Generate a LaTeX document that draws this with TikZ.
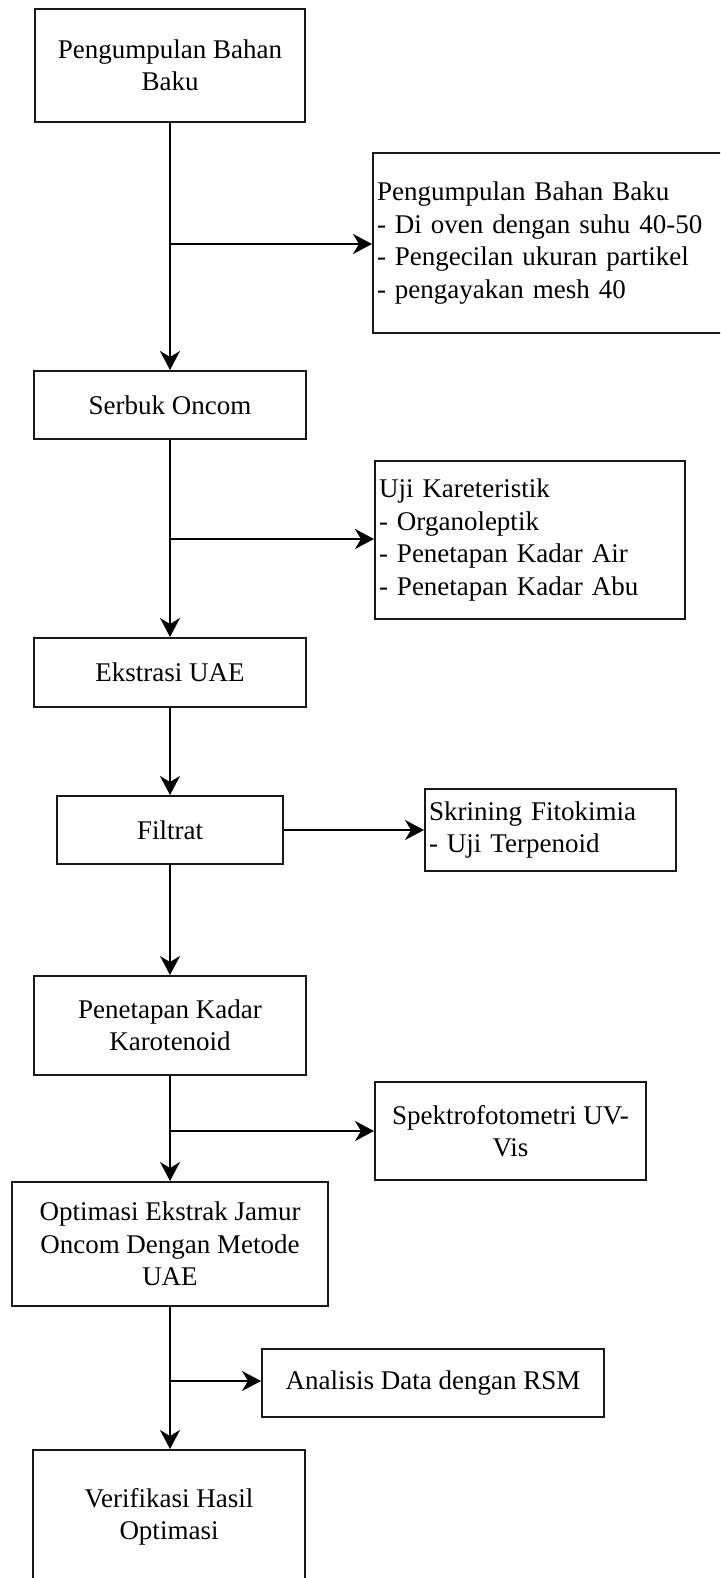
\documentclass[tikz,border=0pt]{standalone}
\usepackage{fontspec}
\setmainfont{Liberation Serif}
\usetikzlibrary{arrows.meta}
\begin{document}
\begin{tikzpicture}[x=1pt,y=-1pt,
  box/.style={draw=black!90, line width=2pt, fill=white, align=center, inner sep=4pt,
    font=\fontsize{27}{32.4}\selectfont},
  lbox/.style={draw=black!90, line width=2pt, fill=white, align=left, inner xsep=4pt, inner ysep=4pt,
    font=\fontsize{27}{32.4}\selectfont},
  arr/.style={line width=2pt, -{Stealth[length=19pt,width=20pt,inset=6pt]}},
  ln/.style={line width=2pt}]
\useasboundingbox (0,0) rectangle (720,1578);
\clip (0,0) rectangle (720,1578);
% main column
\node[box, minimum width=270pt, minimum height=113pt] (b1) at (170,65.5) {Pengumpulan Bahan\\Baku};
\node[box, minimum width=272pt, minimum height=68pt] (b2) at (170,405) {Serbuk Oncom};
\node[box, minimum width=272pt, minimum height=69pt] (b3) at (170,672.5) {Ekstrasi UAE};
\node[box, minimum width=226pt, minimum height=68pt] (b4) at (170,830) {Filtrat};
\node[box, minimum width=272pt, minimum height=99pt] (b5) at (170,1025.5) {Penetapan Kadar\\Karotenoid};
\node[box, minimum width=316pt, minimum height=124pt] (b6) at (170,1244) {Optimasi Ekstrak Jamur\\Oncom Dengan Metode\\UAE};
\node[box, minimum width=272pt, minimum height=134pt] (b7) at (169,1517) {Verifikasi Hasil\\Optimasi};
% side boxes
\node[lbox, text width=346pt, minimum height=180pt, anchor=west] (r1) at (372,243)
  {Pengumpulan Bahan Baku\\- Di oven dengan suhu 40-50\\- Pengecilan ukuran partikel\\- pengayakan mesh 40};
\node[lbox, text width=302pt, minimum height=158pt, anchor=west] (r2) at (374,540)
  {Uji Kareteristik\\- Organoleptik\\- Penetapan Kadar Air\\- Penetapan Kadar Abu};
\node[lbox, text width=243pt, minimum height=82pt, anchor=west] (r3) at (424,830)
  {Skrining Fitokimia\\- Uji Terpenoid};
\node[box, minimum width=271pt, minimum height=98pt, anchor=west] (r4) at (374,1131)
  {Spektrofotometri UV-\\Vis};
\node[box, minimum width=342pt, minimum height=68pt, anchor=west] (r5) at (261,1383)
  {Analisis Data dengan RSM};
% junctions
\coordinate (j1) at (170,244);
\coordinate (j2) at (170,539);
\coordinate (j4) at (170,1131);
\coordinate (j5) at (170,1381);
% connectors
\draw[arr] (b1.south) -- (b2.north);
\draw[arr] (j1) -- (j1 -| r1.west);
\draw[arr] (b2.south) -- (b3.north);
\draw[arr] (j2) -- (j2 -| r2.west);
\draw[arr] (b3.south) -- (b4.north);
\draw[arr] (b4.east) -- (b4.east -| r3.west);
\draw[arr] (b4.south) -- (b5.north);
\draw[arr] (b5.south) -- (b6.north);
\draw[arr] (j4) -- (r4.west);
\draw[arr] (b6.south) -- (b6.south |- b7.north);
\draw[arr] (j5) -- (j5 -| r5.west);
\end{tikzpicture}
\end{document}
